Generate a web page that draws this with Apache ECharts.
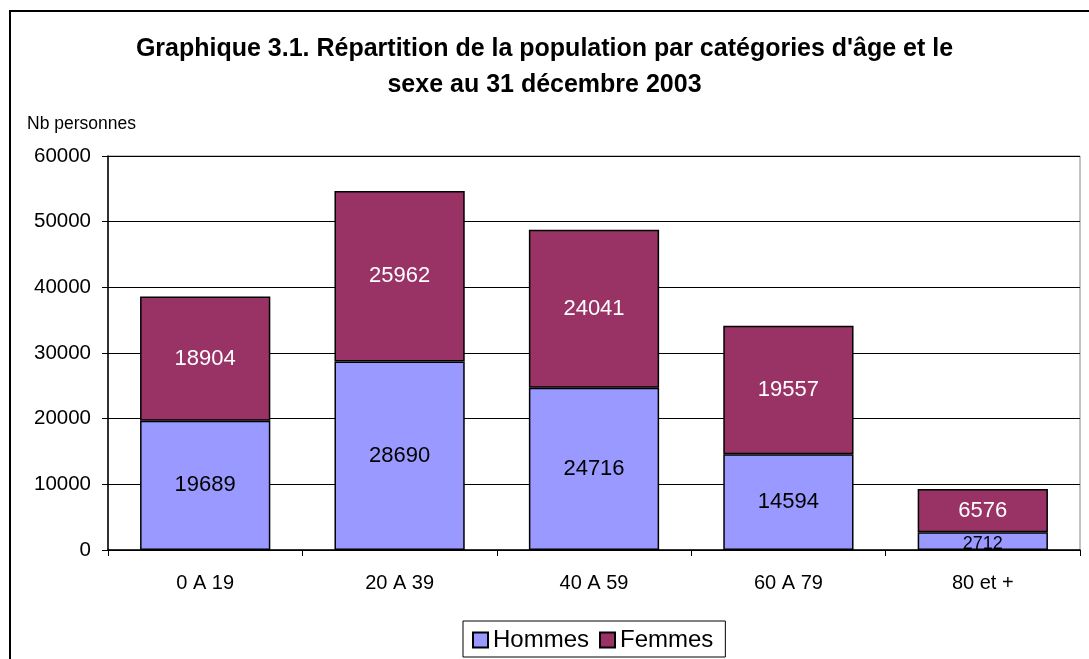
<!DOCTYPE html>
<html>
<head>
    <meta charset="UTF-8">
    <title>Graphique 3.1</title>
    <script type="text/javascript" src="https://cdn.jsdelivr.net/npm/echarts@6/dist/echarts.min.js"></script>
    <style type="text/css">
        html, body { margin: 0; padding: 0; background: #fff; }
        #chart { width: 1089px; height: 659px; }
    </style>
</head>
<body>
<div id="chart"></div>
<script type="text/javascript">
    // catégories d'âge
    var categories = ['0 A 19', '20 A 39', '40 A 59', '60 A 79', '80 et +'];
    var hommes = [19689, 28690, 24716, 14594, 2712];
    var femmes = [18904, 25962, 24041, 19557, 6576];
    var yTicks = [0, 10000, 20000, 30000, 40000, 50000, 60000];

    var font = 'Liberation Sans, Arial, sans-serif';
    var chart = echarts.init(document.getElementById('chart'));
    chart.setOption({
        animation: false,
        textStyle: {fontFamily: font},
        title: {
            text: 'Graphique 3.1. Répartition de la population par catégories d\'âge et le\nsexe au 31 décembre 2003',
            left: 'center',
            top: 26,
            textStyle: {fontSize: 25, fontWeight: 'bold', color: '#000', lineHeight: 36,
                align: 'center', fontFamily: font}
        },
        graphic: [
            {type: 'rect', shape: {x: 10, y: 11, width: 1100, height: 700},
             style: {fill: 'none', stroke: '#000', lineWidth: 2}, silent: true},
            {type: 'text', left: 27, top: 115,
             style: {text: 'Nb personnes', fontSize: 17.5, fill: '#000', fontFamily: font}}
        ],
        legend: {
            left: 463,
            top: 621,
            data: ['Hommes', 'Femmes'],
            icon: 'rect',
            itemWidth: 15,
            itemHeight: 15,
            itemGap: 10,
            padding: [7, 12, 5, 9],
            borderColor: '#000',
            borderWidth: 1,
            borderRadius: 0,
            textStyle: {fontSize: 24, color: '#000'}
        },
        grid: {
            left: 108, right: 9, top: 156, bottom: 109,
            show: true, borderColor: '#888', borderWidth: 1
        },
        xAxis: {
            type: 'category',
            data: categories,
            axisLine: {lineStyle: {color: '#000', width: 1.5}},
            axisTick: {show: true, length: 6, lineStyle: {color: '#000'}},
            axisLabel: {fontSize: 20, color: '#000', margin: 23}
        },
        yAxis: {
            type: 'value',
            min: 0, max: 60000, interval: 10000,
            axisLine: {show: true, lineStyle: {color: '#000', width: 1.5}},
            axisTick: {show: true, length: 6, lineStyle: {color: '#000'}},
            splitLine: {lineStyle: {color: '#000', width: 1}},
            axisLabel: {fontSize: 20.5, color: '#000', margin: 17,
                formatter: function (v) { return yTicks.indexOf(v) >= 0 ? String(v) : ''; }}
        },
        series: [
            {
                name: 'Hommes',
                type: 'bar',
                stack: 'pop',
                barWidth: '67%',
                data: hommes.map(function (v, i) {
                    return i === 4 ? {value: v, label: {fontSize: 18, offset: [0, 3]}} : v;
                }),
                itemStyle: {color: '#9999FF', borderColor: '#000', borderWidth: 1.5},
                label: {show: true, position: 'inside', color: '#000', fontSize: 22}
            },
            {
                name: 'Femmes',
                type: 'bar',
                stack: 'pop',
                barWidth: '67%',
                data: femmes,
                itemStyle: {color: '#993366', borderColor: '#000', borderWidth: 1.5},
                label: {show: true, position: 'inside', color: '#fff', fontSize: 22}
            }
        ]
    });
</script>
</body>
</html>
